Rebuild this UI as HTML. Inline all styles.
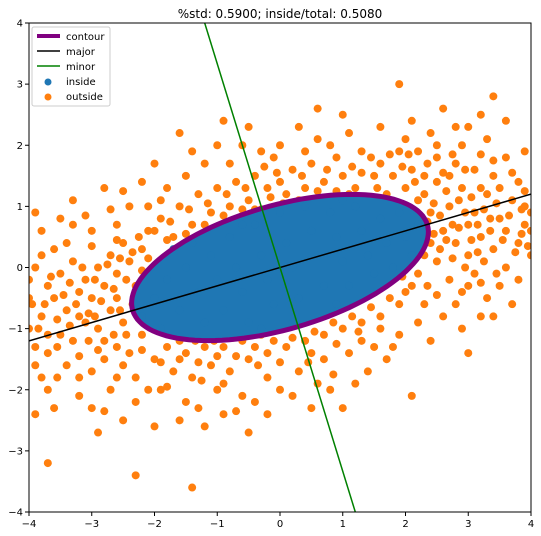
<!DOCTYPE html>
<html><head><meta charset="utf-8"><style>
html,body{margin:0;padding:0;background:#fff;width:541px;height:536px;overflow:hidden}
svg{display:block;font-family:"DejaVu Sans","Liberation Sans",sans-serif}
</style></head><body>
<svg id="chart" width="541" height="536" viewBox="0 0 541 536" xmlns="http://www.w3.org/2000/svg">
<text x="280" y="18" font-size="12" text-anchor="middle">%std: 0.5900; inside/total: 0.5080</text>
<defs><clipPath id="clip"><rect x="29" y="23" width="502" height="489"/></clipPath></defs>
<g id="plot" clip-path="url(#clip)"></g>
<rect x="29" y="23" width="502" height="489" fill="none" stroke="#000" stroke-width="1"/>
<g id="axes" font-size="10"></g>
<g>
<rect x="32" y="27" width="78" height="79" fill="#fff" fill-opacity="0.8" stroke="#ccc" rx="2"/>
<line x1="37" y1="36" x2="60" y2="36" stroke="#800080" stroke-width="4"/><text x="66" y="40" font-size="10">contour</text>
<line x1="37" y1="51" x2="60" y2="51" stroke="#000" stroke-width="1.5"/><text x="66" y="55" font-size="10">major</text>
<line x1="37" y1="66" x2="60" y2="66" stroke="green" stroke-width="1.5"/><text x="66" y="70" font-size="10">minor</text>
<circle cx="48" cy="82" r="3.5" fill="#1f77b4"/><text x="66" y="85" font-size="10">inside</text>
<circle cx="48" cy="97" r="3.5" fill="#ff7f0e"/><text x="66" y="100" font-size="10">outside</text>
</g>
</svg>
<script>
const xTicks=[-4,-3,-2,-1,0,1,2,3,4];
const yTicks=[-4,-3,-2,-1,0,1,2,3,4];
const ellipseCenter=[0,0];
const ellipseAxes=[2.45,1.01];
const slope=0.3;
const insidePts=[[-2.0,-0.5],[-1.8,-0.2],[-1.6,-0.7],[-1.5,0.0],[-1.3,-0.4],[-1.2,-0.9],[-1.1,0.2],[-1.0,-0.2],[-0.9,-0.7],[-0.8,0.5],[-0.7,0.0],[-0.6,-0.4],[-0.5,-0.9],[-0.4,0.7],[-0.3,0.2],[-0.2,-0.2],[-0.1,-0.6],[0.0,0.9],[0.1,0.4],[0.2,0.0],[0.3,-0.5],[0.4,1.0],[0.5,0.6],[0.6,0.2],[0.7,-0.3],[0.8,0.9],[0.9,0.5],[1.0,0.1],[1.1,-0.3],[1.2,1.0],[1.3,0.6],[1.4,0.2],[1.5,-0.1],[1.6,0.8],[1.7,0.4],[1.8,0.0],[1.9,0.9],[2.0,0.5],[2.1,0.2],[-2.2,-0.8],[-1.9,-1.0],[-1.4,0.4],[-0.3,-1.0],[0.2,-0.9],[0.9,-0.6],[2.2,0.7],[-1.7,0.3],[-0.6,0.7],[1.0,1.1],[-2.3,-0.4]];
const outsidePts=[[2.1,1.6],[2.3,1.2],[2.5,1.4],[2.7,1.0],[2.9,1.3],[3.1,0.9],[3.3,1.2],[3.5,0.8],[3.7,1.1],[3.9,0.7],[2.4,0.9],[2.6,0.6],[2.8,0.4],[3.0,0.2],[3.2,0.5],[3.4,0.3],[3.6,0.0],[3.8,0.4],[2.5,0.1],[2.7,-0.2],[2.9,-0.4],[3.1,-0.1],[3.3,-0.5],[2.2,1.9],[2.5,1.8],[2.8,1.7],[3.1,1.6],[3.4,1.5],[3.6,1.8],[3.8,1.4],[2.0,2.1],[2.4,2.2],[2.9,2.0],[3.3,2.1],[3.6,2.4],[3.9,1.9],[2.6,2.6],[3.4,2.8],[1.9,3.0],[2.2,0.6],[2.4,0.4],[3.5,-0.3],[3.7,-0.6],[4.0,0.2],[2.1,-0.3],[2.3,-0.6],[2.6,-0.8],[2.9,-1.0],[3.2,-0.8],[3.0,-1.4],[2.0,1.3],[1.8,1.5],[1.6,1.7],[3.0,0.7],[3.2,1.3],[2.7,1.5],[2.3,1.5],[3.5,1.3],[3.9,1.0],[3.6,0.6],
[1.2,1.3],[1.5,1.5],[1.0,1.5],[0.7,1.4],[0.4,1.3],[0.1,1.2],[-0.2,1.3],[-0.5,1.1],[-0.8,1.0],[-1.1,0.9],[-1.4,0.7],[-1.7,0.5],[1.3,1.9],[0.9,1.8],[0.5,1.7],[0.2,1.6],[-0.1,1.8],[-0.4,1.5],[-0.7,1.4],[-1.0,1.3],[-1.3,1.2],[-1.6,1.0],[-1.9,0.8],[1.1,2.2],[0.6,2.1],[0.0,2.0],[-0.6,2.0],[-1.2,1.7],[-1.8,1.3],[-2.2,1.4],[0.6,2.6],[-1.6,2.2],[-0.9,2.4],[0.3,2.3],[1.6,2.3],[1.4,1.1],[1.7,1.2],[-0.3,0.95],[-2.4,1.0],[-2.8,1.3],[-3.3,1.1],[-2.6,0.7],[-3.0,0.6],[-3.5,0.8],[-3.9,0.9],[0.9,1.25],[-1.5,1.5],[-2.0,1.7],[-1.0,2.0],[0.0,1.4],
[-2.2,0.3],[-2.4,0.1],[-2.6,-0.1],[-2.8,-0.3],[-3.0,-0.5],[-3.2,-0.4],[-3.4,-0.7],[-3.6,-0.5],[-3.8,-0.8],[-2.5,0.4],[-2.7,0.2],[-2.9,0.0],[-3.1,-0.2],[-3.3,0.1],[-3.5,-0.1],[-3.7,-0.3],[-3.9,0.0],[-2.5,-0.9],[-2.7,-0.7],[-2.9,-1.0],[-3.1,-0.9],[-3.3,-1.2],[-3.5,-1.1],[-3.7,-1.4],[-3.9,-1.3],[-2.6,-1.3],[-2.8,-1.5],[-3.0,-1.7],[-3.4,-1.6],[-3.8,-1.8],[-2.2,-1.1],[-2.4,-1.4],[-2.0,-1.5],[-2.3,-1.8],[-2.7,-2.0],[-3.2,-2.1],[-3.6,-2.3],[-3.9,-2.4],[-3.7,-3.2],[-2.3,-3.4],[-2.5,-2.5],[-2.9,-2.7],[-3.4,0.4],[-2.1,0.6],[-2.0,-0.1],[-2.3,-0.3],[-3.6,0.3],[-4.0,-0.5],[-3.2,-0.8],[-2.6,-0.5],
[-1.8,-1.3],[-1.5,-1.4],[-1.2,-1.3],[-0.9,-1.3],[-0.6,-1.2],[-0.3,-1.1],[0.0,-1.0],[0.3,-0.9],[0.6,-0.8],[0.9,-0.7],[1.2,-0.5],[1.5,-0.4],[1.8,-0.2],[-1.7,-1.7],[-1.4,-1.8],[-1.1,-1.6],[-0.8,-1.7],[-0.5,-1.5],[-0.2,-1.4],[0.1,-1.3],[0.4,-1.2],[0.7,-1.1],[1.0,-1.0],[1.3,-0.9],[1.6,-0.8],[1.9,-0.6],[-1.5,-2.2],[-1.0,-2.0],[-0.6,-2.1],[-0.2,-1.8],[0.3,-1.7],[0.7,-1.5],[1.1,-1.4],[1.5,-1.3],[1.9,-1.1],[2.1,-2.1],[1.0,-2.3],[-0.5,-2.7],[-1.4,-3.6],[-1.2,-2.6],[-2.0,-2.6],[-0.2,-2.4],[0.6,-1.9],[1.4,-1.7],[1.7,-1.5],[0.2,-2.1],[-0.9,-2.4],[-1.9,-2.0],[1.3,-1.2],[0.5,-1.4],
[2.2,1.1],[2.35,0.75],[2.45,1.05],[2.55,0.85],[2.65,1.25],[2.75,0.7],[2.85,1.1],[2.95,0.9],[3.05,1.15],[3.15,0.7],[3.25,0.95],[3.35,0.6],[3.45,1.05],[3.55,0.45],[3.65,0.85],[3.75,0.25],[3.85,0.55],[3.95,0.35],[2.3,0.2],[2.45,0.55],[2.55,0.3],[2.65,0.45],[2.75,0.15],[2.85,0.65],[2.95,0.0],[3.05,0.45],[3.15,0.25],[3.25,0.1],[3.35,0.8],[3.45,-0.1],[2.2,-0.1],[2.35,-0.3],[2.5,-0.45],[2.8,-0.6],[3.0,-0.3],[3.2,-0.25],[3.4,-0.8],[3.8,-0.2],[2.15,1.4],[2.35,1.7],[2.6,1.55],[2.75,1.85],[2.95,1.6],[3.2,1.85],[3.4,1.75],[3.7,1.55],[3.9,1.25],[2.05,1.85],[2.5,2.0],[3.0,2.3],[2.1,2.4],[3.2,2.5],[2.8,2.3],[1.75,1.85],[1.95,1.65],[2.15,0.9],[4.0,0.9],[4.0,0.6],[3.85,0.95],
[1.1,1.2],[1.3,1.55],[1.55,1.3],[0.8,1.15],[0.6,1.25],[0.3,1.1],[0.05,1.05],[-0.15,1.15],[-0.4,0.95],[-0.6,0.95],[-0.9,0.85],[-1.2,0.7],[-1.5,0.55],[-1.8,0.45],[1.15,1.65],[0.75,1.6],[0.35,1.5],[-0.05,1.55],[-0.25,1.65],[-0.55,1.3],[-0.85,1.2],[-1.15,1.05],[-1.45,0.95],[-1.75,0.75],[-2.0,0.6],[0.8,2.0],[0.4,1.9],[-0.3,1.9],[-0.8,1.7],[-1.4,1.9],[-1.9,1.1],[-2.1,1.0],[1.45,1.8],[1.9,1.9],[-0.5,2.3],[1.0,2.5],[-2.5,1.25],[-2.7,0.95],[-3.1,0.85],[-3.8,0.6],[-3.3,0.7],
[-2.2,-0.05],[-2.35,0.25],[-2.45,-0.2],[-2.55,0.15],[-2.65,-0.35],[-2.75,0.05],[-2.85,-0.55],[-2.95,-0.2],[-3.05,-0.75],[-3.15,0.0],[-3.25,-0.6],[-3.35,-0.25],[-3.45,-0.45],[-3.55,-0.85],[-3.65,-0.15],[-3.75,-0.6],[-3.85,-1.0],[-3.95,-0.6],[-2.35,-0.6],[-2.45,-1.1],[-2.55,-0.7],[-2.65,-1.1],[-2.8,-1.2],[-2.95,-0.8],[-3.05,-1.2],[-3.2,-1.45],[-3.35,-0.95],[-3.55,-1.3],[-3.7,-1.1],[-3.9,-1.6],[-2.2,-1.35],[-2.1,-0.8],[-2.5,-1.6],[-2.9,-1.35],[-3.2,-1.8],[-3.55,-1.8],[-2.6,-1.8],[-2.1,-2.0],[-3.0,-2.3],[-3.7,-2.0],[-2.3,-2.2],[-2.8,-2.35],[-2.1,0.15],[-2.25,0.5],[-2.6,0.45],[-3.0,0.35],[-3.8,0.2],[-4.0,-0.2],[-4.0,-1.0],
[-1.6,-1.2],[-1.35,-1.2],[-1.05,-1.2],[-0.75,-1.15],[-0.45,-1.1],[-0.15,-1.05],[0.15,-0.95],[0.45,-0.85],[0.75,-0.75],[1.05,-0.6],[1.35,-0.45],[1.65,-0.3],[1.95,-0.15],[-1.9,-1.55],[-1.6,-1.5],[-1.3,-1.55],[-1.0,-1.45],[-0.7,-1.45],[-0.4,-1.3],[-0.1,-1.2],[0.2,-1.15],[0.55,-1.05],[0.85,-0.9],[1.15,-0.8],[1.45,-0.65],[1.75,-0.5],[2.0,-0.4],[-1.8,-1.95],[-1.25,-1.85],[-0.9,-1.9],[-0.35,-1.6],[0.0,-1.55],[0.45,-1.55],[0.9,-1.25],[1.25,-1.05],[1.6,-1.0],[2.2,-0.9],[-1.3,-2.3],[-0.7,-2.35],[0.0,-2.0],[0.5,-2.3],[0.85,-1.75],[1.2,-1.9],[1.8,-1.3],[2.4,-1.2],[-1.6,-2.5],[-0.4,-2.2],[0.8,-2.0]];

const NS='http://www.w3.org/2000/svg';
const X0=29,X1=531,Y0=512,Y1=23;
function sx(v){return X0+(v+4)/8*(X1-X0);}
function sy(v){return Y0-(v+4)/8*(Y0-Y1);}
function mk(tag,attrs,parent){const e=document.createElementNS(NS,tag);for(const k in attrs)e.setAttribute(k,attrs[k]);parent.appendChild(e);return e;}
const plot=document.getElementById('plot');
const axes=document.getElementById('axes');
const th=Math.atan(slope),c=Math.cos(th),s=Math.sin(th);
function ellPts(){let p=[];for(let i=0;i<=120;i++){const t=i/120*2*Math.PI;const u=ellipseAxes[0]*Math.cos(t),v=ellipseAxes[1]*Math.sin(t);p.push(sx(ellipseCenter[0]+u*c-v*s).toFixed(1)+','+sy(ellipseCenter[1]+u*s+v*c).toFixed(1));}return p.join(' ');}
outsidePts.forEach(p=>{const e=mk('circle',{cx:sx(p[0]),cy:sy(p[1]),r:4,fill:'#ff7f0e'},plot);

});
const fill=mk('polygon',{points:ellPts(),fill:'#1f77b4'},plot);


insidePts.forEach(p=>{const e=mk('circle',{cx:sx(p[0]),cy:sy(p[1]),r:4,fill:'#1f77b4'},plot);

});
const ell=mk('polygon',{points:ellPts(),fill:'none',stroke:'#800080','stroke-width':5},plot);


const maj=mk('line',{x1:sx(-4),y1:sy(ellipseCenter[1]-4*slope),x2:sx(4),y2:sy(ellipseCenter[1]+4*slope),stroke:'#000','stroke-width':1.5},plot);


const mn=mk('line',{x1:sx(-4*slope),y1:sy(4),x2:sx(4*slope),y2:sy(-4),stroke:'green','stroke-width':1.5},plot);


xTicks.forEach(t=>{const x=sx(t);mk('line',{x1:x,y1:Y0,x2:x,y2:Y0+4,stroke:'#000'},axes);
const tx=mk('text',{x:x,y:Y0+15,'text-anchor':'middle'},axes);tx.textContent=(t<0?'\u2212':'')+Math.abs(t);

});
yTicks.forEach(t=>{const y=sy(t);mk('line',{x1:X0-4,y1:y,x2:X0,y2:y,stroke:'#000'},axes);
const tx=mk('text',{x:X0-6,y:y+3.5,'text-anchor':'end'},axes);tx.textContent=(t<0?'\u2212':'')+Math.abs(t);

});
</script>
</body></html>
